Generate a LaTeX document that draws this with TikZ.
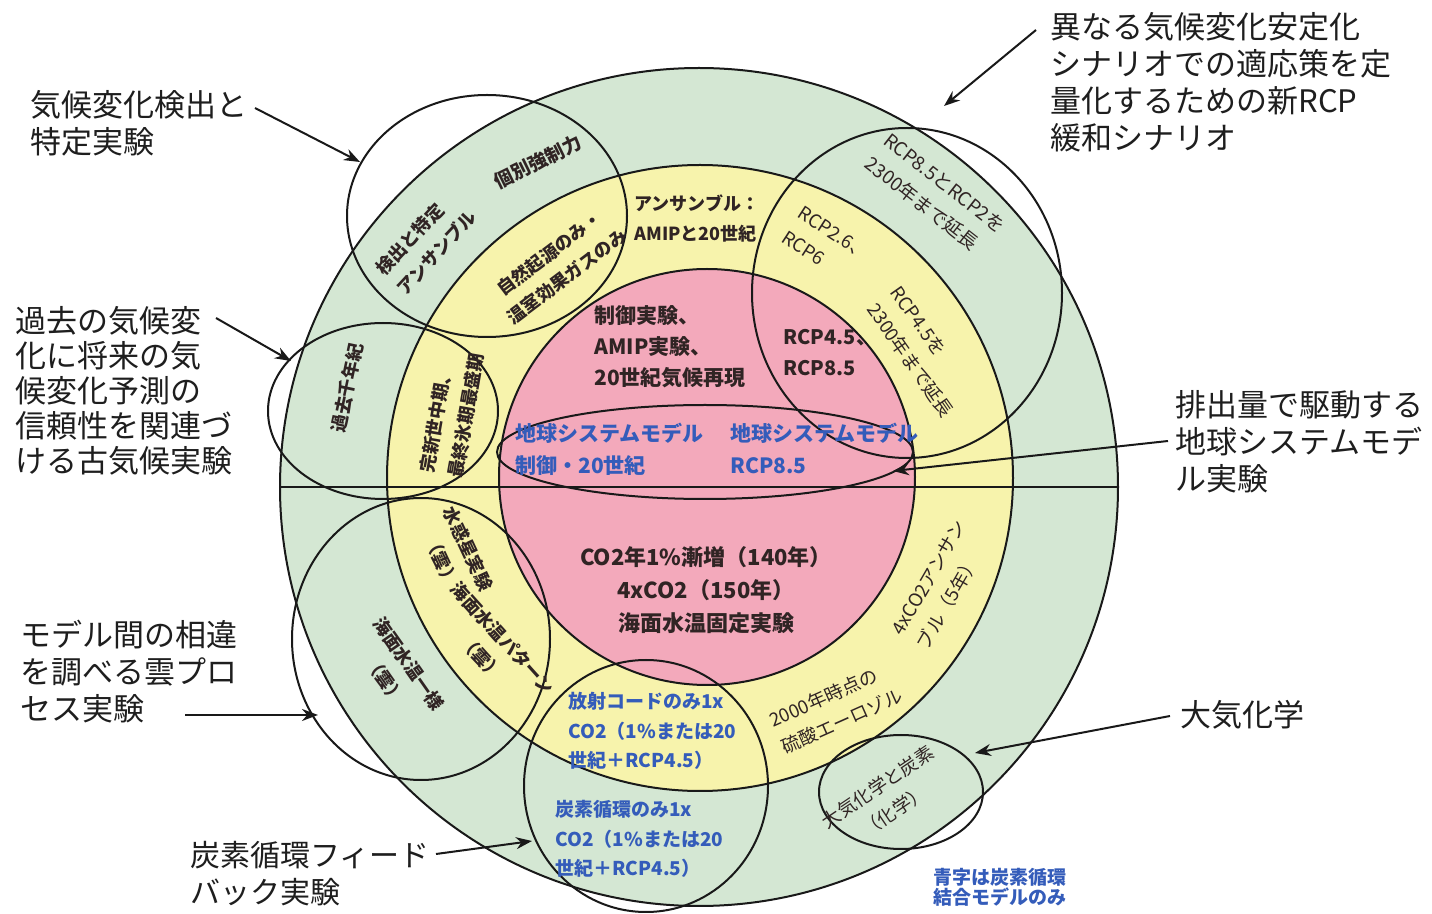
\documentclass[tikz,border=0pt]{standalone}
\usepackage{fontspec}
\setmainfont{Noto Sans CJK JP}
\usetikzlibrary{arrows.meta}
\definecolor{ringgreen}{RGB}{212,231,211}
\definecolor{ringyellow}{RGB}{247,243,172}
\definecolor{ringpink}{RGB}{243,169,187}
\definecolor{innertext}{RGB}{48,36,36}
\definecolor{bluetext}{RGB}{52,92,186}
\definecolor{labeltext}{RGB}{30,30,30}
\begin{document}
\begin{tikzpicture}[x=0.5pt,y=-0.5pt,
  ring/.style={draw=black!90,line width=1pt},
  ovl/.style={draw=black!90,line width=1pt},
  lbl/.style={font=\fontsize{15.5}{18.5}\selectfont,align=left,anchor=north west,inner sep=0pt,text=labeltext},
  inb/.style={font=\bfseries\fontsize{9}{14.5}\selectfont,text=innertext,inner sep=0pt},
  inr/.style={font=\fontsize{9.3}{14.5}\selectfont,text=innertext,inner sep=0pt},
  pinkb/.style={font=\bfseries\fontsize{10.5}{15.5}\selectfont,text=innertext,inner sep=0pt,align=left,anchor=north west},
  blueb/.style={font=\bfseries\fontsize{10.5}{16}\selectfont,text=bluetext,inner sep=0pt,align=left,anchor=north west},
  bluesm/.style={font=\bfseries\fontsize{9.5}{14.8}\selectfont,text=bluetext,inner sep=0pt,align=left,anchor=north west},
  arr/.style={-{Stealth[length=8pt,width=6pt]},line width=1pt,draw=black!90},
]
\fill[white] (0,0) rectangle (1432,914);
\useasboundingbox (0,0) rectangle (1432,914);

% rings
\filldraw[fill=ringgreen,ring] (699,487) circle [radius=419];
\filldraw[fill=ringyellow,ring] (700,478) circle [radius=313];
\filldraw[fill=ringpink,ring] (707,477) circle [radius=208];
\draw[ring] (280,487) -- (1118,487);

% overlay ellipses
\draw[ovl] (487,216) ellipse [x radius=140,y radius=121];
\draw[ovl] (907,293) ellipse [x radius=155,y radius=165];
\draw[ovl] (383,411) ellipse [x radius=115,y radius=88];
\draw[ovl] (705,452) ellipse [x radius=208,y radius=47];
\draw[ovl] (421,639) ellipse [x radius=129,y radius=141];
\draw[ovl] (646,786) ellipse [x radius=122,y radius=126];
\draw[ovl] (901,792) ellipse [x radius=82,y radius=57];

% green ring texts
\node[inb,align=left,rotate=47] (g1) at (426,243) {検出と特定\\アンサンブル};
\node[inb,font=\bfseries\fontsize{9.5}{14}\selectfont,rotate=26] (g2) at (538,162) {個別強制力};
\node[inr,align=left,rotate=-38,font=\fontsize{9.5}{15}\selectfont] (g3) at (935,195) {RCP8.5とRCP2を\\2300年まで延長};
\node[inb,rotate=78] (g4) at (347,388) {過去千年紀};
\node[inb,align=center,rotate=-55] (g5) at (397,672) {海面水温一様\\（雲）};
\node[inr,align=center,rotate=34] (g6) at (886,799) {大気化学と炭素\\（化学）};
\node[bluesm] (g7) at (555,800) {炭素循環のみ1x\\CO2（1\%または20\\世紀＋RCP4.5）};
\node[bluesm,font=\bfseries\fontsize{9.5}{10}\selectfont] (note) at (933,868) {青字は炭素循環\\結合モデルのみ};

% yellow ring texts
\node[inb,align=left,anchor=north west,font=\bfseries\fontsize{9}{15}\selectfont] (y1) at (634,194) {アンサンブル：\\AMIPと20世紀};
\node[inb,align=center,rotate=37] (y2) at (558,265) {自然起源のみ・\\温室効果ガスのみ};
\node[inr,align=left,rotate=-33] (y3) at (826,245) {RCP2.6、\\RCP6};
\node[inr,align=left,rotate=-55] (y4) at (922,352) {RCP4.5を\\2300年まで延長};
\node[inb,align=left,rotate=80] (y5) at (452,413) {完新世中期、\\最終氷期最盛期};
\node[inb,align=center,rotate=-65] (y6) at (455,555) {水惑星実験\\（雲）};
\node[inb,align=center,rotate=-48] (y7) at (492,648) {海面水温パターン\\（雲）};
\node[inr,align=left,rotate=60] (y8) at (942,585) {4xCO2アンサン\\ブル（5年）};
\node[inr,align=left,rotate=24] (y9) at (836,708) {2000年時点の\\硫酸エーロゾル};
\node[bluesm] (y10) at (568,692) {放射コードのみ1x\\CO2（1\%または20\\世紀＋RCP4.5）};

% pink texts
\node[pinkb] (p1) at (594,305) {制御実験、\\AMIP実験、\\20世紀気候再現};
\node[pinkb,font=\bfseries\fontsize{10}{15.5}\selectfont] (p2) at (783,329) {RCP4.5、\\RCP8.5};
\node[blueb] (b1) at (515,423) {地球システムモデル\\制御・20世紀};
\node[blueb] (b2) at (730,423) {地球システムモデル\\RCP8.5};
\node[inb,align=center,font=\bfseries\fontsize{11}{16.5}\selectfont] (p3) at (706,590) {CO2年1\%漸増（140年）\\4xCO2（150年）\\海面水温固定実験};

% outer labels
\node[lbl] (l1) at (30,90) {気候変化検出と\\特定実験};
\node[lbl,font=\fontsize{15.5}{17.5}\selectfont] (l2) at (15,306) {過去の気候変\\化に将来の気\\候変化予測の\\信頼性を関連づ\\ける古気候実験};
\node[lbl] (l3) at (1050,12) {異なる気候変化安定化\\シナリオでの適応策を定\\量化するための新RCP\\緩和シナリオ};
\node[lbl] (l4) at (1175,390) {排出量で駆動する\\地球システムモデ\\ル実験};
\node[lbl] (l5) at (20,620) {モデル間の相違\\を調べる雲プロ\\セス実験};
\node[lbl] (l6) at (1180,700) {大気化学};
\node[lbl,font=\fontsize{15}{18.5}\selectfont] (l7) at (190,841) {炭素循環フィード\\バック実験};

% arrows
\coordinate (a1s) at (255,108); \coordinate (a1e) at (360,162);
\coordinate (a2s) at (216,318); \coordinate (a2e) at (291,361);
\coordinate (a3s) at (1036,30); \coordinate (a3e) at (944,106);
\coordinate (a4s) at (1168,441); \coordinate (a4e) at (893,471);
\coordinate (a5s) at (185,715); \coordinate (a5e) at (318,715);
\coordinate (a6s) at (1170,716); \coordinate (a6e) at (975,753);
\coordinate (a7s) at (436,854); \coordinate (a7e) at (532,841);
\draw[arr] (a1s) -- (a1e);
\draw[arr] (a2s) -- (a2e);
\draw[arr] (a3s) -- (a3e);
\draw[arr] (a4s) -- (a4e);
\draw[arr] (a5s) -- (a5e);
\draw[arr] (a6s) -- (a6e);
\draw[arr] (a7s) -- (a7e);
\end{tikzpicture}
\end{document}
